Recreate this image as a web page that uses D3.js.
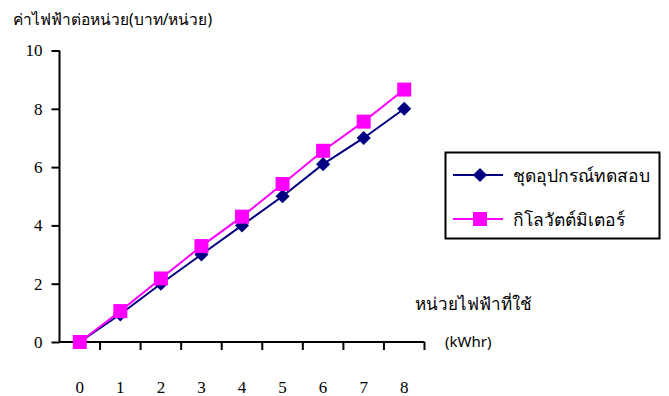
<!DOCTYPE html>
<html><head><meta charset="utf-8">
<script src="https://cdn.jsdelivr.net/npm/d3@7"></script>
<style>body{margin:0;background:#fff}</style>
</head><body>
<svg id="c" width="669" height="396"></svg>
<script>
const categories = ["0","1","2","3","4","5","6","7","8"];
const testSet = [0, 0.95, 2.0, 3.0, 4.0, 5.0, 6.1, 7.0, 8.0];
const kwhMeter = [0, 1.06, 2.18, 3.29, 4.3, 5.42, 6.56, 7.56, 8.66];
const yTicks = [0, 2, 4, 6, 8, 10];
const seriesNames = ["ชุดอุปกรณ์ทดสอบ", "กิโลวัตต์มิเตอร์"];
const yTitle = "ค่าไฟฟ้าต่อหน่วย(บาท/หน่วย)";
const xTitle1 = "หน่วยไฟฟ้าที่ใช้";
const xTitle2 = "(kWhr)";

const svg = d3.select("#c");
const pL = 59.5, pR = 424.5, pT = 50.5, pB = 342;
const x = d3.scaleBand().domain(categories).range([pL, pR]);
const y = d3.scaleLinear().domain([0, 10]).range([pB, pT]);
const serif = "'Liberation Serif','Times New Roman',serif";
const sans = "'Noto Sans','Liberation Sans',Arial,sans-serif";
const diamond = d3.symbol().type(d3.symbolSquare).size(100);

// y axis
const ya = svg.append("g").attr("transform", `translate(${pL},0)`)
  .call(d3.axisLeft(y).tickValues(yTicks).tickSize(8).tickPadding(9).tickFormat(d3.format("d")));
ya.select(".domain").attr("stroke", "#000").attr("stroke-width", 2).attr("d", `M0,${pT}V${pB}`);
ya.selectAll(".tick line").attr("stroke-width", 2);
ya.selectAll("text").attr("font-family", serif).attr("font-size", 17).attr("fill", "#000");

// x axis with ticks at band boundaries
const xa = svg.append("g").attr("transform", `translate(0,${pB})`);
xa.append("line").attr("x1", pL).attr("x2", pR).attr("y1", 0).attr("y2", 0)
  .attr("stroke", "#000").attr("stroke-width", 2);
const bounds = categories.map(c => x(c)).concat([x(categories[categories.length-1]) + x.bandwidth()]);
xa.selectAll("line.t").data(bounds.slice(1)).join("line").attr("class", "t")
  .attr("x1", d => d).attr("x2", d => d).attr("y1", 0).attr("y2", 8)
  .attr("stroke", "#000").attr("stroke-width", 2);
xa.selectAll("text").data(categories).join("text")
  .attr("x", d => x(d) + x.bandwidth()/2).attr("y", 51)
  .attr("text-anchor", "middle").attr("font-family", serif).attr("font-size", 17).text(d => d);

const cx = (d, i) => x(categories[i]) + x.bandwidth()/2;
const line = d3.line().x((d, i) => cx(d, i)).y(d => y(d));

// series 1: navy diamonds
svg.append("path").datum(testSet).attr("d", line).attr("fill", "none")
  .attr("stroke", "#000080").attr("stroke-width", 2);
svg.selectAll("path.dia").data(testSet).join("path").attr("class", "dia")
  .attr("d", diamond)
  .attr("transform", (d, i) => `translate(${cx(d, i)},${y(d)}) rotate(45)`)
  .attr("fill", "#000080");

// series 2: magenta squares
svg.append("path").datum(kwhMeter).attr("d", line).attr("fill", "none")
  .attr("stroke", "#FF00FF").attr("stroke-width", 2);
svg.selectAll("rect.sq").data(kwhMeter).join("rect").attr("class", "sq")
  .attr("x", (d, i) => cx(d, i) - 7).attr("y", d => y(d) - 7)
  .attr("width", 14).attr("height", 14).attr("fill", "#FF00FF");

// titles
svg.append("text").attr("x", 13).attr("y", 25).attr("font-family", sans).attr("font-size", 15.5).text(yTitle);
svg.append("text").attr("x", 415).attr("y", 310).attr("font-family", sans).attr("font-size", 17).text(xTitle1);
svg.append("text").attr("x", 445).attr("y", 347).attr("font-family", sans).attr("font-size", 15).text(xTitle2);

// legend
const lg = svg.append("g");
lg.append("rect").attr("x", 445.5).attr("y", 152.5).attr("width", 214).attr("height", 86)
  .attr("fill", "#fff").attr("stroke", "#000").attr("stroke-width", 2);
const colors = ["#000080", "#FF00FF"];
[175, 219].forEach((ly, i) => {
  lg.append("line").attr("x1", 453).attr("x2", 503).attr("y1", ly).attr("y2", ly)
    .attr("stroke", colors[i]).attr("stroke-width", 2);
  if (i === 0) {
    lg.append("path").attr("d", diamond)
      .attr("transform", `translate(480,${ly}) rotate(45)`).attr("fill", colors[i]);
  } else {
    lg.append("rect").attr("x", 473).attr("y", ly - 7).attr("width", 14).attr("height", 14).attr("fill", colors[i]);
  }
  lg.append("text").attr("x", 513).attr("y", ly + 7).attr("font-family", serif)
    .attr("font-size", 17.5).text(seriesNames[i]);
});
</script>
</body></html>
